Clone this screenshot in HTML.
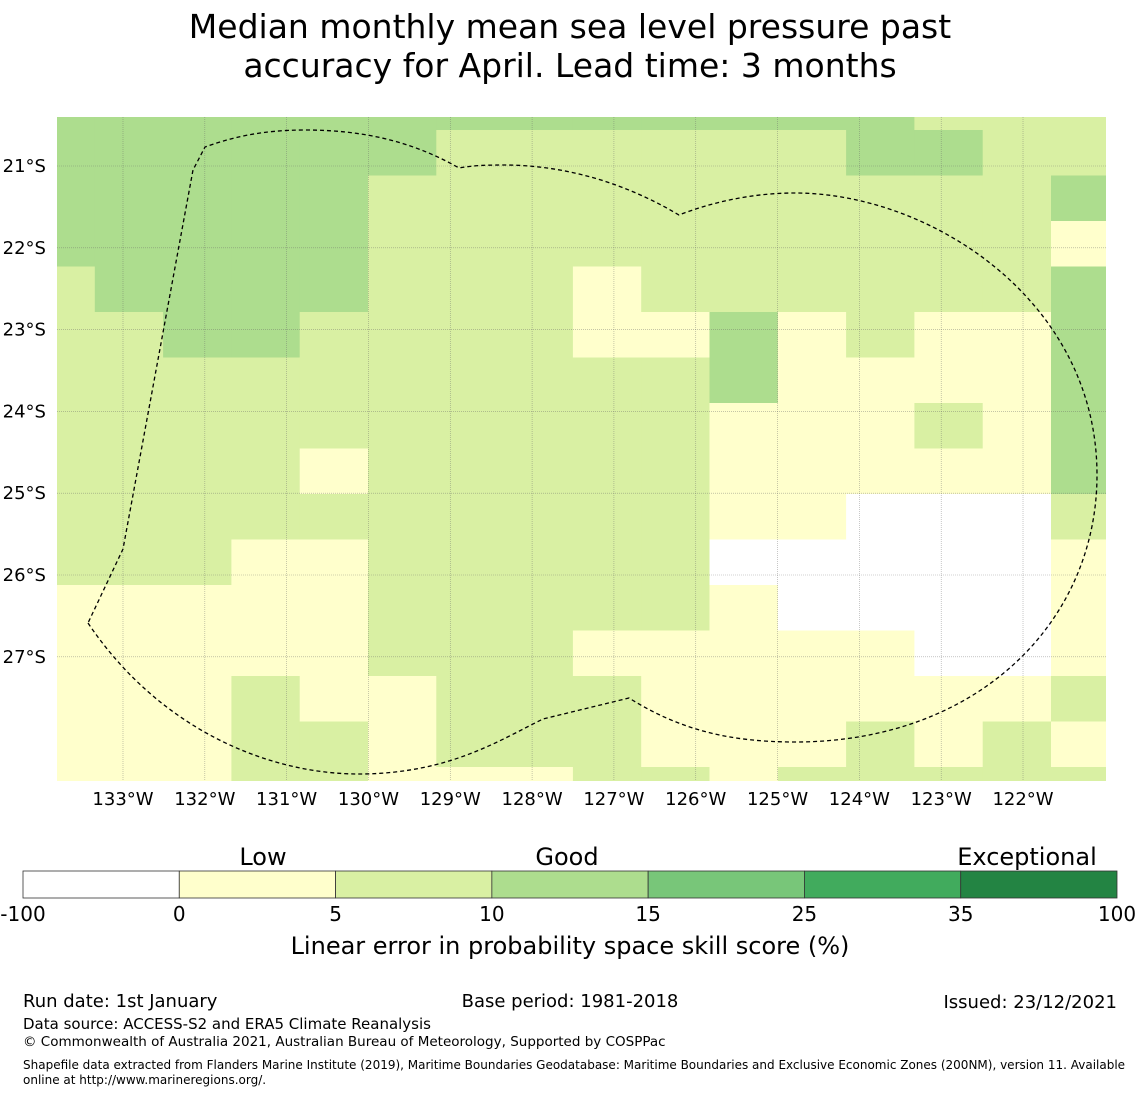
<!DOCTYPE html>
<html><head><meta charset="utf-8"><style>
body{margin:0;background:#fff;font-family:"Liberation Sans","DejaVu Sans",sans-serif;}
svg{display:block}
</style></head><body>
<svg id="c" width="1140" height="1095" viewBox="0 0 1140 1095" xmlns="http://www.w3.org/2000/svg" font-family="DejaVu Sans, Liberation Sans, sans-serif">
<text x="570" y="38" text-anchor="middle" font-size="33">Median monthly mean sea level pressure past</text>
<text x="570" y="77" text-anchor="middle" font-size="33">accuracy for April. Lead time: 3 months</text>
<defs><clipPath id="mapclip"><rect x="57" y="117" width="1049" height="664"/></clipPath></defs>
<g id="cells" clip-path="url(#mapclip)"></g>
<g id="grid"></g>
<path d="M88,623 C160,730 270,775 362,774 C450,773 500,740 543,719 L629,698 C680,730 730,742 795,742 C980,742 1097,620 1097,475 C1097,300 930,193 795,193 C750,193 710,203 679,215 C620,180 560,165 503,165 C480,165 470,166 459,168 C410,140 360,130 305,130 C260,130 230,138 205,147 L193,170 L123,549 Z" fill="none" stroke="#000" stroke-width="1.3" stroke-dasharray="4,3"/>
<g id="ticks" font-size="18"></g>
<g id="cbar"></g>
<text x="263" y="865" text-anchor="middle" font-size="24">Low</text>
<text x="567" y="865" text-anchor="middle" font-size="24">Good</text>
<text x="1027" y="865" text-anchor="middle" font-size="24">Exceptional</text>
<text x="570" y="954" text-anchor="middle" font-size="24">Linear error in probability space skill score (%)</text>
<text x="23" y="1007" font-size="18">Run date: 1st January</text>
<text x="570" y="1007" text-anchor="middle" font-size="18">Base period: 1981-2018</text>
<text x="1117" y="1008" text-anchor="end" font-size="18">Issued: 23/12/2021</text>
<text x="23" y="1029" font-size="15">Data source: ACCESS-S2 and ERA5 Climate Reanalysis</text>
<text x="23" y="1046" font-size="13.5">© Commonwealth of Australia 2021, Australian Bureau of Meteorology, Supported by COSPPac</text>
<text x="23" y="1069" font-size="12">Shapefile data extracted from Flanders Marine Institute (2019), Maritime Boundaries Geodatabase: Maritime Boundaries and Exclusive Economic Zones (200NM), version 11. Available</text>
<text x="23" y="1084" font-size="12">online at http://www.marineregions.org/.</text>
</svg>
<script>
const rows = [
"GGGGGGGGGGGGGLLL",
"GGGGGGLLLLLLGGLL",
"GGGGGLLLLLLLLLLG",
"GGGGGLLLLLLLLLLY",
"LGGGGLLLYLLLLLLG",
"LLGGLLLLYYGYLYYG",
"LLLLLLLLLLGYYYYG",
"LLLLLLLLLLYYYLYG",
"LLLLYLLLLLYYYYYG",
"LLLLLLLLLLYYWWWL",
"LLLYYLLLLLWWWWWY",
"YYYYYLLLLLYWWWWY",
"YYYYYLLLYYYYYWWY",
"YYYLYYLLLYYYYYYL",
"YYYLLYLLLYYYLYLY",
"YYYLLYYYLLYLLLLL"
];
const lonTicks = [133,132,131,130,129,128,127,126,125,124,123,122];
const latTicks = [21,22,23,24,25,26,27];
const cbBounds = [-100,0,5,10,15,25,35,100];
const cbColors = ["#ffffff","#ffffcc","#d9f0a3","#addd8e","#78c679","#41ab5d","#238443"];
const colorMap = {W:"#ffffff",Y:"#ffffcc",L:"#d9f0a3",G:"#addd8e"};
const NS="http://www.w3.org/2000/svg";
const xLon = lon => 123 + (133 - lon) * 81.82;
const yLat = lat => 166 + (lat - 21) * 81.8;
const cellW = 68.3, cellH = 45.5, col0 = 26.5, row0 = 84.5;
const cells = document.getElementById('cells');
rows.forEach((r,i)=>{ [...r].forEach((ch,j)=>{
  const e=document.createElementNS(NS,'rect');
  e.setAttribute('x',(col0+j*cellW).toFixed(1));
  e.setAttribute('y',(row0+i*cellH).toFixed(1));
  e.setAttribute('width',cellW+0.6);
  e.setAttribute('height',cellH+0.6);
  e.setAttribute('fill',colorMap[ch]);
  
  
  cells.appendChild(e);
});});
const grid=document.getElementById('grid'), ticks=document.getElementById('ticks');
lonTicks.forEach(l=>{
  const x=xLon(l);
  const ln=document.createElementNS(NS,'line');
  ln.setAttribute('x1',x);ln.setAttribute('x2',x);ln.setAttribute('y1',117);ln.setAttribute('y2',781);
  ln.setAttribute('stroke','#666');ln.setAttribute('stroke-width','0.6');ln.setAttribute('stroke-dasharray','1,1');ln.setAttribute('opacity','0.6');
  
  
  grid.appendChild(ln);
  const t=document.createElementNS(NS,'text');
  t.setAttribute('x',x);t.setAttribute('y',805);t.setAttribute('text-anchor','middle');
  t.textContent=l+'°W';
  
  
  ticks.appendChild(t);
});
latTicks.forEach(l=>{
  const y=yLat(l);
  const ln=document.createElementNS(NS,'line');
  ln.setAttribute('x1',57);ln.setAttribute('x2',1106);ln.setAttribute('y1',y);ln.setAttribute('y2',y);
  ln.setAttribute('stroke','#666');ln.setAttribute('stroke-width','0.6');ln.setAttribute('stroke-dasharray','1,1');ln.setAttribute('opacity','0.6');
  
  
  grid.appendChild(ln);
  const t=document.createElementNS(NS,'text');
  t.setAttribute('x',46);t.setAttribute('y',y+6);t.setAttribute('text-anchor','end');
  t.textContent=l+'°S';
  
  
  ticks.appendChild(t);
});
const cb=document.getElementById('cbar');
const segW=(1117-23)/cbColors.length;
cbColors.forEach((c,i)=>{
  const e=document.createElementNS(NS,'rect');
  e.setAttribute('x',23+i*segW);e.setAttribute('y',871);e.setAttribute('width',segW);e.setAttribute('height',27);
  e.setAttribute('fill',c);e.setAttribute('stroke','#333');e.setAttribute('stroke-width','0.8');
  
  
  cb.appendChild(e);
});
cbBounds.forEach((b,i)=>{
  const t=document.createElementNS(NS,'text');
  t.setAttribute('x',23+i*segW);t.setAttribute('y',921);t.setAttribute('text-anchor','middle');t.setAttribute('font-size','20');
  t.textContent=b;
  
  
  cb.appendChild(t);
});
</script>
</body></html>
